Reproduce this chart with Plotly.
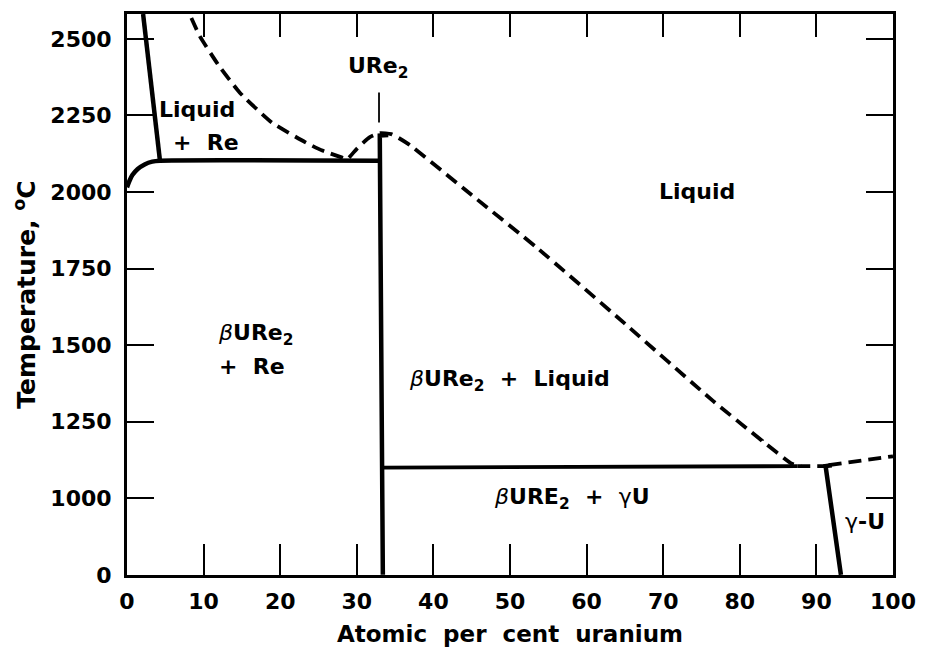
import plotly.graph_objects as go

# ---------------- data (atomic % U, temperature in deg C) ----------------
x_tick_vals = [0, 10, 20, 30, 40, 50, 60, 70, 80, 90, 100]
y_tick_temps = [0, 1000, 1250, 1500, 1750, 2000, 2250, 2500]
y_tick_text = ["0", "1000", "1250", "1500", "1750", "2000", "2250", "2500"]

re_liquidus_x = [2.1, 4.3]
re_liquidus_t = [2581, 2103]

re_solvus_x = [0.0, 0.3, 0.7, 1.4, 2.3, 3.3, 4.3, 33.0]
re_solvus_t = [2015, 2035, 2055, 2075, 2090, 2099, 2102, 2102]

ure2_x = [34.1, 33.0, 33.4]
ure2_t = [2186, 2184, 0]

eutectic_x = [33.4, 87.5]
eutectic_t = [1100, 1105]

eutectic_dash_x = [87.5, 91.2]
eutectic_dash_t = [1105, 1105]

gamma_x = [92.0, 91.2, 93.2]
gamma_t = [1108, 1105, 0]

gamma_liq_x = [91.6, 100.0]
gamma_liq_t = [1108, 1137]

liquidus_x = [8.4, 9.5, 12.0, 14.7, 18.9, 23.3, 25.5, 28.1, 28.7, 30.0, 31.7,
              33.0, 34.5, 36.7, 45.0, 53.6, 65.0, 76.5, 82.9, 86.8, 88.0]
liquidus_t = [2568, 2509, 2412, 2325, 2227, 2162, 2135, 2112, 2106, 2141, 2179,
              2192, 2189, 2157, 1990, 1816, 1570, 1318, 1188, 1113, 1105]

marker_x = [32.9, 32.9]
marker_t = [2227, 2325]

Y_TOP = 2581


def ty(t):
    """Broken temperature scale: 0-1000 C is compressed into one 250 C step."""
    return t if t >= 1000 else 750 + t / 4.0


def tys(ts):
    return [ty(t) for t in ts]


fig = go.Figure()

solid = dict(color="black", width=4.5)
dashed = dict(color="black", width=3.8, dash="13px,7px")

fig.add_trace(go.Scatter(x=re_liquidus_x, y=tys(re_liquidus_t), mode="lines", line=solid))
fig.add_trace(go.Scatter(x=re_solvus_x, y=tys(re_solvus_t), mode="lines", line=dict(solid, shape="spline", smoothing=0.6)))
fig.add_trace(go.Scatter(x=ure2_x, y=tys(ure2_t), mode="lines", line=solid))
fig.add_trace(go.Scatter(x=eutectic_x, y=tys(eutectic_t), mode="lines", line=dict(color="black", width=3.8)))
fig.add_trace(go.Scatter(x=eutectic_dash_x, y=tys(eutectic_dash_t), mode="lines", line=dashed))
fig.add_trace(go.Scatter(x=gamma_x, y=tys(gamma_t), mode="lines", line=solid))
fig.add_trace(go.Scatter(x=gamma_liq_x, y=tys(gamma_liq_t), mode="lines", line=dashed))
fig.add_trace(go.Scatter(x=liquidus_x, y=tys(liquidus_t), mode="lines",
                         line=dict(dashed, shape="spline", smoothing=0.5)))
fig.add_trace(go.Scatter(x=marker_x, y=tys(marker_t), mode="lines", line=dict(color="black", width=1.8)))
# invisible trace on the top axis so that it renders
fig.add_trace(go.Scatter(x=[0, 100], y=[ty(1000), ty(1000)], mode="lines", xaxis="x2",
                         line=dict(width=0), hoverinfo="skip"))

FONT = "DejaVu Sans"
ann = dict(showarrow=False, font=dict(family=FONT, size=22, color="black"), xref="x", yref="y")
labels = [
    ("<b>Liquid</b>", 3.9, 2269, "left"),
    ("<b>+  Re</b>", 5.8, 2162, "left"),
    ("<b>URe<sub>2</sub></b>", 32.8, 2405, "center"),
    ("<b>Liquid</b>", 74.4, 2003, "center"),
    ("<i>β</i><b>URe<sub>2</sub></b>", 11.6, 1535, "left"),
    ("<b>+  Re</b>", 11.8, 1429, "left"),
    ("<i>β</i><b>URe<sub>2</sub>  +  Liquid</b>", 36.6, 1386, "left"),
    ("<i>β</i><b>URE<sub>2</sub>  +  </b>γ<b>U</b>", 47.6, 995, "left"),
    ("γ<b>-U</b>", 96.3, 700, "center"),
]
for text, x, t, anchor in labels:
    fig.add_annotation(text=text, x=x, y=ty(t), xanchor=anchor, yanchor="middle", **ann)

tickfont = dict(family=FONT, size=22, color="black", weight="bold")
fig.update_layout(
    width=927, height=655,
    margin=dict(l=127, r=27, t=11, b=80),
    paper_bgcolor="white", plot_bgcolor="white",
    showlegend=False,
    xaxis=dict(
        range=[0, 100], tickvals=x_tick_vals, ticktext=[str(v) for v in x_tick_vals],
        ticks="inside", ticklen=31, tickwidth=2, tickcolor="black",
        showline=True, linewidth=3, linecolor="black", mirror=True,
        showgrid=False, zeroline=False, tickfont=tickfont, ticklabelstandoff=5,
        title=dict(text="<b>Atomic  per  cent  uranium</b>", font=dict(family=FONT, size=23, color="black"),
                   standoff=13),
    ),
    xaxis2=dict(
        range=[0, 100], overlaying="x", side="top", tickvals=x_tick_vals[1:-1],
        ticks="inside", ticklen=23, tickwidth=2, tickcolor="black",
        showticklabels=False, showgrid=False, zeroline=False, showline=False,
    ),
    yaxis=dict(
        range=[749.5, ty(Y_TOP)], tickvals=tys(y_tick_temps), ticktext=y_tick_text,
        ticks="inside", ticklen=27, tickwidth=2, tickcolor="black",
        showline=True, linewidth=3, linecolor="black", mirror="ticks",
        showgrid=False, zeroline=False, tickfont=tickfont, ticklabelstandoff=8,
        title=dict(text="<b>Temperature, <sup>o</sup>C</b>", font=dict(family=FONT, size=25, color="black"),
                   standoff=8),
    ),
)

fig.write_html("out.html")
